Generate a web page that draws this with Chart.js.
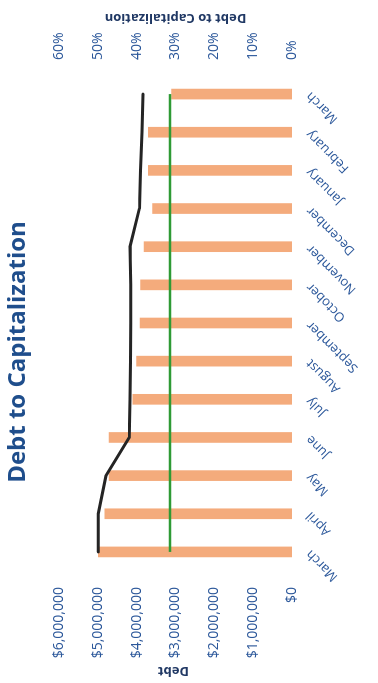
<!DOCTYPE html>
<html>
<head>
<meta charset="utf-8">
<script src="https://cdn.jsdelivr.net/npm/chart.js@4.4.0/dist/chart.umd.min.js"></script>
<style>
  html, body { margin: 0; padding: 0; background: #ffffff; overflow: hidden; width: 378px; height: 683px; }
  #wrap { position: absolute; left: 0; top: 0; width: 683px; height: 378px; transform-origin: 0 0;
          transform: translate(0, 683px) rotate(-90deg); background: #ffffff; }
</style>
</head>
<body>
<div id="wrap"><canvas id="c" width="683" height="378"></canvas></div>
<script>
const months = ['March', 'April', 'May', 'June', 'July', 'August', 'September', 'October', 'November', 'December', 'January', 'February', 'March'];
const debt = [4990000, 4820000, 4710000, 4710000, 4100000, 4000000, 3910000, 3900000, 3810000, 3590000, 3700000, 3700000, 3100000];
const debtToCap = [49.9, 49.9, 47.9, 41.9, 41.7, 41.6, 41.5, 41.5, 41.7, 39.3, 39.0, 38.6, 38.4];
const targetRatio = [31.4, 31.4, 31.4, 31.4, 31.4, 31.4, 31.4, 31.4, 31.4, 31.4, 31.4, 31.4, 31.4];
const debtAxis = { min: 0, max: 6000000, step: 1000000 };
const pctAxis = { min: 0, max: 60, step: 10 };
const chartTitle = 'Debt to Capitalization';
const debtTitle = 'Debt';
const pctTitle = 'Debt to Capitalization';

const FONT = '"Open Sans", sans-serif';
const TICK_COLOR = '#2B579A';
const TITLE_COLOR = '#1F4E8C';
const AXIS_TITLE_COLOR = '#203864';

const textPlugin = {
  id: 'texts',
  afterDraw(chart) {
    const ctx = chart.ctx;
    const ca = chart.chartArea;
    const cy = (ca.top + ca.bottom) / 2;
    ctx.save();
    ctx.fillStyle = TITLE_COLOR;
    ctx.font = 'bold 24px ' + FONT;
    ctx.textAlign = 'center';
    ctx.textBaseline = 'alphabetic';
    ctx.fillText(chartTitle, 331, 25);

    ctx.fillStyle = AXIS_TITLE_COLOR;
    ctx.font = 'bold 13px ' + FONT;
    ctx.save();
    ctx.translate(16, cy - 2);
    ctx.rotate(-Math.PI / 2);
    ctx.fillText(debtTitle, 0, 0);
    ctx.restore();

    ctx.save();
    ctx.translate(669, cy);
    ctx.rotate(-Math.PI / 2);
    ctx.fillText(pctTitle, 0, 0);
    ctx.restore();
    ctx.restore();
  }
};

new Chart(document.getElementById('c'), {
  data: {
    labels: months,
    datasets: [
      {
        type: 'line', label: 'Target', data: targetRatio, yAxisID: 'y1',
        borderColor: '#2E9A35', borderWidth: 2.5, pointRadius: 0, tension: 0, order: 1
      },
      {
        type: 'line', label: 'Debt to Capitalization', data: debtToCap, yAxisID: 'y1',
        borderColor: '#242424', borderWidth: 3, pointRadius: 0, tension: 0,
        borderCapStyle: 'round', borderJoinStyle: 'round', order: 1
      },
      {
        type: 'bar', label: 'Debt', data: debt, yAxisID: 'y',
        backgroundColor: '#F4AB7C', borderWidth: 0, barThickness: 10, order: 2
      }
    ]
  },
  options: {
    responsive: false,
    maintainAspectRatio: false,
    devicePixelRatio: 1,
    animation: false,
    layout: { padding: { top: 59, left: 0, right: 0, bottom: 0 } },
    plugins: { legend: { display: false }, title: { display: false }, tooltip: { enabled: false } },
    scales: {
      x: {
        type: 'category',
        grid: { display: false, drawTicks: false },
        border: { display: false },
        ticks: { autoSkip: false, minRotation: 45, maxRotation: 45, padding: 11,
                 color: TICK_COLOR, font: { family: FONT, size: 13 } },
        afterFit(scale) { scale.height = 86; }
      },
      y: {
        position: 'left',
        min: debtAxis.min, max: debtAxis.max,
        grid: { display: false, drawTicks: false },
        border: { display: false },
        ticks: { stepSize: debtAxis.step, padding: 16, color: TICK_COLOR,
                 font: { family: FONT, size: 14 },
                 callback: v => '$' + Number(v).toLocaleString('en-US') },
        afterFit(scale) { scale.width = 112; }
      },
      y1: {
        position: 'right',
        min: pctAxis.min, max: pctAxis.max,
        grid: { display: false, drawTicks: false },
        border: { display: false },
        ticks: { stepSize: pctAxis.step, padding: 15, color: TICK_COLOR,
                 font: { family: FONT, size: 14 },
                 callback: v => v + '%' },
        afterFit(scale) { scale.width = 75; }
      }
    }
  },
  plugins: [textPlugin]
});
</script>
</body>
</html>
